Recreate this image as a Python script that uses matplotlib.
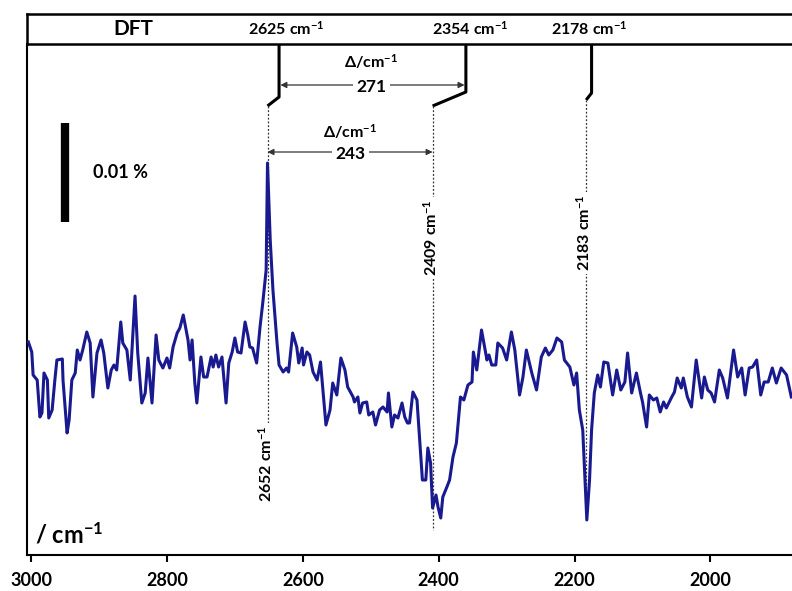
import numpy as np
import matplotlib.pyplot as plt

plt.rcParams['font.family'] = ['Lato', 'DejaVu Sans']
plt.rcParams['font.weight'] = 'bold'
plt.rcParams['mathtext.fontset'] = 'custom'
plt.rcParams['mathtext.rm'] = 'Lato:bold'
plt.rcParams['mathtext.it'] = 'Lato:bold'
plt.rcParams['mathtext.bf'] = 'Lato:bold'

# spectrum (signal in units of 0.001 %)
wavenumber = [3004, 2999, 2997, 2991, 2987, 2984, 2981, 2976, 2974, 2969,
              2965, 2962, 2954, 2953, 2947, 2944, 2940, 2935, 2932, 2928,
              2924, 2918, 2913, 2909, 2903, 2897, 2893, 2887, 2882, 2878,
              2874, 2868, 2865, 2859, 2854, 2847, 2843, 2837, 2832, 2828,
              2822, 2816, 2812, 2806, 2800, 2796, 2791, 2785, 2781, 2776,
              2774, 2769, 2766, 2763, 2759, 2756, 2750, 2746, 2741, 2735,
              2732, 2728, 2724, 2719, 2713, 2709, 2704, 2700, 2696, 2691,
              2685, 2681, 2678, 2674, 2668, 2663, 2659, 2654, 2652, 2648,
              2644, 2638, 2635, 2629, 2624, 2621, 2615, 2609, 2606, 2601,
              2599, 2594, 2590, 2585, 2579, 2574, 2566, 2560, 2556, 2550,
              2544, 2538, 2534, 2526, 2524, 2519, 2516, 2512, 2506, 2503,
              2497, 2493, 2487, 2482, 2476, 2474, 2469, 2465, 2460, 2454,
              2450, 2446, 2443, 2438, 2432, 2428, 2424, 2419, 2416, 2412,
              2409, 2404, 2401, 2397, 2394, 2388, 2384, 2379, 2374, 2368,
              2363, 2357, 2351, 2349, 2344, 2337, 2329, 2326, 2322, 2316,
              2313, 2306, 2300, 2293, 2288, 2281, 2276, 2271, 2263, 2256,
              2249, 2243, 2238, 2232, 2226, 2219, 2215, 2207, 2201, 2197,
              2193, 2188, 2182, 2178, 2175, 2171, 2166, 2162, 2157, 2151,
              2144, 2138, 2132, 2126, 2122, 2116, 2109, 2103, 2100, 2094,
              2090, 2084, 2079, 2074, 2069, 2065, 2057, 2053, 2049, 2043,
              2040, 2034, 2028, 2021, 2013, 2009, 2004, 1999, 1994, 1987,
              1982, 1975, 1966, 1960, 1954, 1949, 1943, 1938, 1932, 1926,
              1921, 1915, 1909, 1903, 1896, 1888, 1881]
signal = [2.8, 1.8, -0.5, -1.0, -4.7, -4.3, -0.3, -1.0, -4.8, -4.0,
          -1.0, 1.0, 1.1, -1.0, -6.3, -5.0, -1.0, -0.3, 2.0, 1.0,
          2.0, 3.8, 2.7, -2.7, 1.7, 3.0, 1.7, -1.8, 0.0, 0.5,
          0.0, 4.8, 2.7, 2.0, -1.0, 7.4, 1.7, -3.3, -2.3, 1.2,
          -3.3, 3.5, 1.0, 0.2, 1.2, 0.2, 2.3, 3.7, 4.2, 5.5,
          4.8, 3.0, 1.0, 3.0, -1.3, -3.3, 1.3, -0.7, -0.7, 1.3,
          0.3, 1.5, 0.3, 1.3, -3.3, 0.7, 1.8, 3.2, 1.8, 1.7,
          4.8, 3.5, 2.3, 2.2, 0.7, 4.3, 6.7, 10.0, 20.7, 13.0,
          8.0, 2.7, 0.5, -0.2, 0.2, -0.2, 3.7, 2.3, 0.7, 2.2,
          0.5, 1.8, 1.5, -0.2, -1.0, 0.8, -5.5, -4.0, -1.3, -2.5,
          1.2, 0.0, -1.7, -2.7, -3.2, -2.7, -4.3, -3.3, -3.2, -4.5,
          -4.2, -5.5, -4.0, -3.7, -4.2, -2.3, -5.7, -4.5, -4.8, -3.3,
          -4.7, -5.3, -5.3, -2.2, -3.0, -7.0, -11.0, -11.0, -7.8, -9.3,
          -13.8, -12.5, -13.7, -14.8, -12.7, -11.7, -11.0, -8.7, -7.3, -2.7,
          -3.0, -1.5, -1.2, 1.8, 0.0, 4.0, 1.0, 1.5, 0.5, 0.5,
          2.7, 2.2, 1.0, 3.8, 2.0, -2.5, -0.7, 2.0, -0.3, -2.0,
          1.3, 2.2, 1.5, 2.0, 3.2, 2.8, 1.0, 0.3, -1.5, -0.3,
          -4.0, -6.0, -15.0, -11.0, -6.0, -2.3, -0.5, -1.7, 0.8, 0.7,
          -2.5, 0.0, -2.0, -1.2, 1.7, -2.3, -0.3, -2.3, -3.2, -5.7,
          -2.5, -3.0, -2.8, -4.2, -3.2, -3.8, -2.7, -2.2, -0.8, -1.8,
          -0.8, -2.7, -3.7, 1.0, -2.8, -0.7, -2.0, -2.3, -3.2, 0.0,
          -0.8, -2.8, 2.0, -0.7, 0.2, -2.5, 0.2, 0.3, 1.0, -2.5,
          -1.2, -1.2, 0.2, -1.3, 0.2, -0.5, -2.7]

exp_peaks = [2652, 2409, 2183]
dft_peaks = [2625, 2354, 2178]
dft_stick = [2635, 2360, 2175]   # where the DFT sticks are drawn in the figure
delta_exp = 243
delta_dft = 271
xticks = [3000, 2800, 2600, 2400, 2200, 2000]

fig = plt.figure(figsize=(7.92, 5.91), dpi=100)
ax = fig.add_axes([27/792, 1-555/591, 765/792, 511/591])
top = fig.add_axes([27/792, 1-44/591, 765/792, 30/591])

ax.plot(wavenumber, signal, color='#1a1a90', lw=2.2, zorder=3)
ax.set_xlim(3006, 1880)
ax.set_ylim(-18.5, 32.6)
ax.set_yticks([])
ax.set_xticks(xticks)
ax.tick_params(axis='x', direction='out', length=5, width=1.5, pad=7, labelsize=13)
for s in ['top', 'right']:
    ax.spines[s].set_visible(False)
for s in ['left', 'bottom']:
    ax.spines[s].set_linewidth(1.5)

# DFT band on top
top.set_xlim(3006, 1880)
top.set_ylim(0, 1)
top.set_xticks([])
top.set_yticks([])
top.spines['right'].set_visible(False)
for s in ['top', 'left', 'bottom']:
    top.spines[s].set_linewidth(1.8)
top.text(2850, 0.5, 'DFT', ha='center', va='center', fontsize=15)
for p in dft_peaks:
    top.text(p, 0.5, str(p) + ' cm$^{-1}$', ha='center', va='center', fontsize=11.5)

# sticks linking DFT to experimental bands
stick_bend = [27.3, 27.8, 27.7]
stick_end = [26.4, 26.4, 27.0]
for xs, xe, yb, ye in zip(dft_stick, exp_peaks, stick_bend, stick_end):
    ax.plot([xs, xs, xe], [32.6, yb, ye], color='black', lw=2.2,
            solid_capstyle='butt', clip_on=False)

# dotted guides and rotated labels
dot_bottom = [-5.3, -16.0, -15.0]
label_y = [-5.5, 13.2, 13.7]
for i in range(3):
    ax.plot([exp_peaks[i], exp_peaks[i]], [stick_end[i], dot_bottom[i]],
            color='#333333', lw=0.9, ls=(0, (1.5, 1.5)), zorder=2)
    ax.text(exp_peaks[i] + 3, label_y[i], str(exp_peaks[i]) + ' cm$^{-1}$',
            rotation=90, ha='center', va='top' if i == 0 else 'center',
            fontsize=11.5, zorder=4,
            bbox=dict(boxstyle='square,pad=0.15', fc='white', ec='none'))

# delta arrows
arrowprops = dict(arrowstyle='<|-|>', color='#333333', lw=0.9,
                  mutation_scale=9, shrinkA=0, shrinkB=0)
ax.annotate('', xy=(dft_stick[0] - 2, 28.5), xytext=(dft_stick[1] + 2, 28.5),
            arrowprops=arrowprops)
ax.text(2499, 30.8, r'$\Delta$/cm$^{-1}$', ha='center', va='center', fontsize=11.5)
ax.text(2499, 28.3, str(delta_dft), ha='center', va='center', fontsize=12.5,
        bbox=dict(boxstyle='square,pad=0.2', fc='white', ec='none'))

ax.annotate('', xy=(exp_peaks[0], 21.8), xytext=(exp_peaks[1], 21.8),
            arrowprops=arrowprops)
ax.text(2530, 23.8, r'$\Delta$/cm$^{-1}$', ha='center', va='center', fontsize=11.5)
ax.text(2530, 21.6, str(delta_exp), ha='center', va='center', fontsize=12.5,
        bbox=dict(boxstyle='square,pad=0.2', fc='white', ec='none'))

# scale bar
ax.plot([2950, 2950], [14.8, 24.7], color='black', lw=6, solid_capstyle='butt')
ax.text(2909, 19.7, '0.01 %', ha='left', va='center', fontsize=13)

ax.text(2994, -16.5, '/ cm$^{-1}$', ha='left', va='center', fontsize=17)

fig.savefig('out.png', dpi=100)
